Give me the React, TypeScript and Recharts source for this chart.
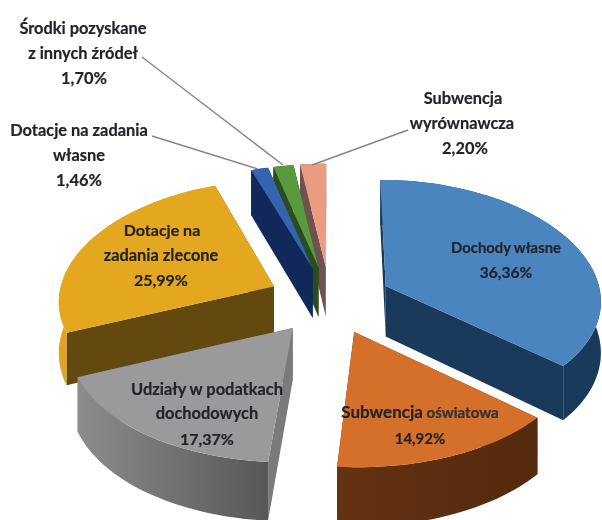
import React from 'react';
import { PieChart, Pie } from 'recharts';

const categories = [
  'Dochody własne',
  'Subwencja oświatowa',
  'Udziały w podatkach dochodowych',
  'Dotacje na zadania zlecone',
  'Dotacje na zadania własne',
  'Środki pozyskane z innych źródeł',
  'Subwencja wyrównawcza',
];
const values = [36.36, 14.92, 17.37, 25.99, 1.46, 1.7, 2.2];
const valueLabels = ['36,36%', '14,92%', '17,37%', '25,99%', '1,46%', '1,70%', '2,20%'];

// Listed last-to-first and swept the other way round, so the slices paint from the small
// back ones forward: each small slice's top then hides the wall of its right-hand neighbour.
const data = categories.map((name, i) => ({ name, value: values[i] })).reverse();
const sourceIndex = (index: number) => categories.length - 1 - index;

const topColors = ['#4a85bf', '#d4702a', '#9a9a9c', '#e3a81f', '#3564ae', '#5a9a3e', '#ea9c81'];
const wallFrom = ['#1a3a5c', '#643212', '#8c8c8e', '#dfa41f', '#10295a', '#2a4d1e', '#705050'];
const wallTo = ['#1a3a5c', '#55290d', '#57575a', '#dfa41f', '#10295a', '#2a4d1e', '#705050'];
const cutColors = ['#1a3a5c', '#5a2c0e', '#7a7a7c', '#63480f', '#10295a', '#2a4d1e', '#705050'];

const EXPLODE = 62;
const H = 51;
const DX = 2000;
const DY = 2500;
const KY = 0.545;

function project(cx: number, cy: number, u: number, v: number, z: number) {
  const sx = DX / (DX + v);
  const sy = DY / (DY + v);
  return [cx + sx * u, cy - KY * sy * v + z * sx];
}

const rad = (d: number) => (d * Math.PI) / 180;

function Slice3D(props: any) {
  const { cx, cy, outerRadius, startAngle, endAngle } = props;
  const index = sourceIndex(props.index);
  const t0 = 90 - startAngle;
  const t1 = 90 - endAngle;
  const m = (t0 + t1) / 2;
  const ou = EXPLODE * Math.sin(rad(m));
  const ov = EXPLODE * Math.cos(rad(m));
  const at = (r: number, t: number, z: number) =>
    project(cx, cy, ou + r * Math.sin(rad(t)), ov + r * Math.cos(rad(t)), z);
  const arc = (z: number) => {
    const pts: number[][] = [];
    const n = Math.max(4, Math.ceil(Math.abs(t1 - t0) / 2));
    for (let i = 0; i <= n; i++) pts.push(at(outerRadius, t0 + ((t1 - t0) * i) / n, z));
    return pts;
  };
  const path = (pts: number[][]) =>
    'M' + pts.map((p) => `${p[0].toFixed(1)},${p[1].toFixed(1)}`).join('L') + 'Z';
  const topArc = arc(0);
  const botArc = arc(H);
  const tipT = at(0, 0, 0);
  const tipB = at(0, 0, H);
  const wallId = `wall-${index}`;
  return (
    <g>
      <defs>
        <linearGradient id={wallId} x1="0" y1="0" x2="1" y2="0">
          <stop offset="0" stopColor={wallFrom[index]} />
          <stop offset="1" stopColor={wallTo[index]} />
        </linearGradient>
      </defs>
      <path d={path([tipT, topArc[0], botArc[0], tipB])} fill={cutColors[index]} />
      <path d={path([tipT, topArc[topArc.length - 1], botArc[botArc.length - 1], tipB])} fill={cutColors[index]} />
      <path d={path([...topArc, ...botArc.slice().reverse()])} fill={`url(#${wallId})`} />
      <path d={path([tipT, ...topArc])} fill={topColors[index]} />
    </g>
  );
}

type Line = { text: string; x: number; y: number; size?: number; small?: string };
const labelLayout: Line[][] = [
  [{ text: 'Dochody własne', x: 506, y: 253, size: 14.8 }, { text: valueLabels[0], x: 506, y: 278, size: 15.5 }],
  [{ text: 'Subwencja', x: 420, y: 418, size: 17, small: ' oświatowa' }, { text: valueLabels[1], x: 420, y: 444, size: 15 }],
  [{ text: 'Udziały w podatkach', x: 207, y: 395 }, { text: 'dochodowych', x: 207, y: 419 }, { text: valueLabels[2], x: 207, y: 445, size: 16 }],
  [{ text: 'Dotacje na', x: 162, y: 236, size: 16 }, { text: 'zadania zlecone', x: 161, y: 261 }, { text: valueLabels[3], x: 161, y: 286, size: 16 }],
  [{ text: 'Dotacje na zadania', x: 79, y: 136 }, { text: 'własne', x: 79, y: 161 }, { text: valueLabels[4], x: 79, y: 186 }],
  [{ text: 'Środki pozyskane', x: 83, y: 34 }, { text: 'z innych źródeł', x: 83, y: 59 }, { text: valueLabels[5], x: 84, y: 84 }],
  [{ text: 'Subwencja', x: 463, y: 104 }, { text: 'wyrównawcza', x: 462, y: 129 }, { text: valueLabels[6], x: 465, y: 154 }],
];
const leaders: (number[] | null)[] = [
  null, null, null, null,
  [152, 136, 258, 169],
  [142, 57, 283, 165],
  [408, 130, 312, 165],
];

function SliceLabel(props: any) {
  const index = sourceIndex(props.index);
  const leader = leaders[index];
  return (
    <g>
      {leader && (
        <line x1={leader[0]} y1={leader[1]} x2={leader[2]} y2={leader[3]} stroke="#858585" strokeWidth={1.4} />
      )}
      {labelLayout[index].map((l) => (
        <text
          key={l.text}
          x={l.x}
          y={l.y}
          textAnchor="middle"
          fontFamily="Lato, sans-serif"
          fontWeight={700}
          fontSize={l.size ?? 16.4}
          fill="#23232b"
          stroke="#23232b"
          strokeWidth={0.2}
        >
          {l.text}
          {l.small && <tspan fontSize={15} fill="#33333a">{l.small}</tspan>}
        </text>
      ))}
    </g>
  );
}

export default function App() {
  return (
    <div style={{ position: 'absolute', left: 0, top: 0, width: 602, height: 520, background: '#fff', overflow: 'hidden', filter: 'blur(0.4px)' }}>
      <PieChart width={602} height={520} margin={{ top: 0, right: 0, bottom: 0, left: 0 }}>
        <Pie
          data={data}
          dataKey="value"
          nameKey="name"
          cx={330}
          cy={300}
          innerRadius={0}
          outerRadius={216}
          startAngle={90}
          endAngle={450}
          isAnimationActive={false}
          shape={Slice3D}
          label={SliceLabel}
          labelLine={false}
        />
      </PieChart>
    </div>
  );
}
